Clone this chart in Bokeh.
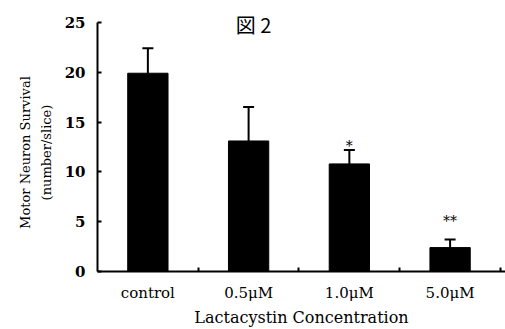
from bokeh.plotting import figure
from bokeh.models import ColumnDataSource, FixedTicker, Whisker, TeeHead, Label
from bokeh.embed import file_html
from bokeh.resources import INLINE
from bokeh.core.properties import value

categories = ["control", "0.5\u03bcM", "1.0\u03bcM", "5.0\u03bcM"]
means = [19.9, 13.1, 10.8, 2.4]
errors = [2.5, 3.4, 1.4, 0.8]
sig_labels = ["", "", "*", "**"]
sig_y = [0, 0, 12.6, 5.1]
y_ticks = [0, 5, 10, 15, 20, 25]

pos = [i + 0.5 for i in range(len(categories))]
src = ColumnDataSource(dict(
    x=pos, top=means,
    upper=[m + e for m, e in zip(means, errors)],
    lab=sig_labels, sy=sig_y,
))

SERIF = "DejaVu Serif"

p = figure(width=505, height=329, x_range=(0, 4.05), y_range=(0, 27.2),
           output_backend="svg", toolbar_location=None,
           min_border_left=97, min_border_right=0, min_border_top=0,
           min_border_bottom=58)
p.outline_line_color = None
p.xgrid.grid_line_color = None
p.ygrid.grid_line_color = None
p.background_fill_color = "white"
p.border_fill_color = "white"

p.vbar(x="x", top="top", width=0.4, bottom=0, source=src,
       fill_color="black", line_color="black")

w = Whisker(base="x", lower="top", upper="upper", source=src,
            dimension="height", line_color="black", line_width=2,
            lower_head=None,
            upper_head=TeeHead(size=11, line_color="black", line_width=2))
p.add_layout(w)

p.text(x="x", y="sy", text="lab", source=src, text_align="center",
       text_baseline="middle", text_font=value(SERIF),
       text_font_size="14px", text_color="black")

# axes
p.xaxis.ticker = FixedTicker(ticks=pos, minor_ticks=[1, 2, 3, 4])
p.xaxis.major_label_overrides = {pp: c for pp, c in zip(pos, categories)}
p.xaxis.major_tick_in = 0
p.xaxis.major_tick_out = 0
p.xaxis.minor_tick_in = 4
p.xaxis.minor_tick_out = 0
p.xaxis.minor_tick_line_width = 2
p.xaxis.axis_line_width = 2
p.xaxis.major_label_text_font = SERIF
p.xaxis.major_label_text_font_size = "15px"
p.xaxis.major_label_text_color = "black"
p.xaxis.major_label_standoff = 12
p.xaxis.axis_label = "Lactacystin Concentration"
p.xaxis.axis_label_text_font = SERIF
p.xaxis.axis_label_text_font_size = "16px"
p.xaxis.axis_label_text_font_style = "normal"
p.xaxis.axis_label_text_color = "black"
p.xaxis.axis_label_standoff = 3

pad = "\u00a0" * 8
p.yaxis.ticker = FixedTicker(ticks=y_ticks, minor_ticks=[])
p.yaxis.bounds = (0, 25)
p.yaxis.major_tick_in = 4
p.yaxis.major_tick_out = 0
p.yaxis.major_tick_line_width = 2
p.yaxis.axis_line_width = 2
p.yaxis.major_label_text_font = SERIF
p.yaxis.major_label_text_font_size = "15px"
p.yaxis.major_label_text_font_style = "bold"
p.yaxis.major_label_text_color = "black"
p.yaxis.major_label_standoff = 12
p.yaxis.axis_label = "Motor Neuron Survival" + pad + "\n(number/slice)" + pad
p.yaxis.axis_label_text_font = SERIF
p.yaxis.axis_label_text_font_size = "13px"
p.yaxis.axis_label_text_font_style = "normal"
p.yaxis.axis_label_text_color = "black"
p.yaxis.axis_label_text_line_height = 1.4
p.yaxis.axis_label_standoff = 8

p.add_layout(Label(x=1.55, y=24.8, text="\u56f3 2", text_align="center",
                   text_baseline="middle", text_font="Noto Sans CJK JP",
                   text_font_size="20px", text_color="black"))

open("out.html", "w").write(file_html(p, INLINE))
